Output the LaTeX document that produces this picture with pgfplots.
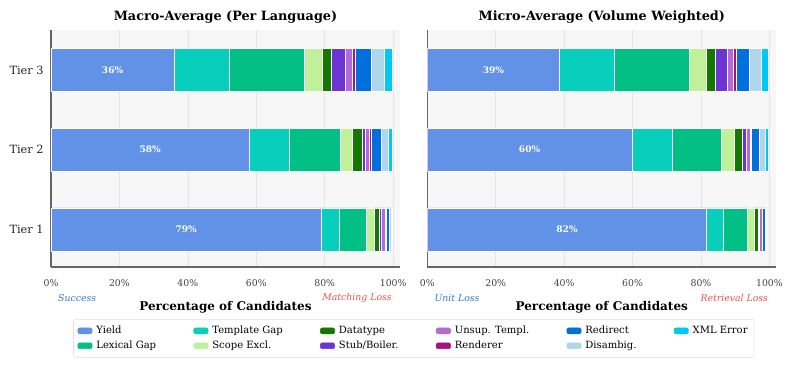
\documentclass[border=0pt]{standalone}
\usepackage{fontspec}
\setmainfont{DejaVu Serif}
\usepackage{pgfplots}
\pgfplotsset{compat=1.18}
\usepackage{pgfplotstable}

\definecolor{cYield}{RGB}{98,145,232}
\definecolor{cTemplate}{RGB}{8,206,188}
\definecolor{cLexical}{RGB}{2,192,133}
\definecolor{cScope}{RGB}{193,240,154}
\definecolor{cDatatype}{RGB}{19,119,0}
\definecolor{cStub}{RGB}{108,52,212}
\definecolor{cUnsup}{RGB}{179,107,214}
\definecolor{cRenderer}{RGB}{168,18,126}
\definecolor{cRedirect}{RGB}{0,112,221}
\definecolor{cDisambig}{RGB}{176,214,234}
\definecolor{cXML}{RGB}{0,200,244}
\definecolor{cSucc}{RGB}{52,120,214}
\definecolor{cLoss}{RGB}{232,84,76}

\newcommand\fs[1]{\fontsize{#1}{#1}\selectfont}

% y: 0 = Tier 1, 1 = Tier 2, 2 = Tier 3
\pgfplotstableread{
y Yield Template Lexical Scope Datatype Stub Unsup Renderer Redirect Disambig XML
0 79.0 5.3 8.0 2.2 1.5 0.6 1.2 0.2 0.8 0.6 0.5
1 58.0 11.8 14.8 3.5 2.8 1.1 1.0 0.6 3.0 2.1 1.1
2 36.1 15.9 22.0 5.2 2.6 4.1 2.1 0.8 4.7 3.9 2.4
}\macrodata

\pgfplotstableread{
y Yield Template Lexical Scope Datatype Stub Unsup Renderer Redirect Disambig XML
0 81.7 4.8 7.1 1.9 1.2 0.3 0.8 0.2 0.8 0.2 0.1
1 59.8 11.7 14.5 3.6 2.5 1.2 1.0 0.5 2.2 1.7 0.9
2 38.7 16.0 21.8 5.1 2.6 3.5 1.8 0.8 3.9 3.5 2.0
}\microdata

\tikzset{
  pct/.style={text=white, font=\bfseries\fs{6.8}},
  succ/.style={text=cSucc, font=\itshape\fs{7}, anchor=west, inner xsep=0pt},
  loss/.style={text=cLoss, font=\itshape\fs{7}, anchor=east, inner xsep=0pt},
}

\pgfplotsset{
  tierax/.style={
    scale only axis, width=261.75pt, height=177.75pt,
    xbar stacked, bar width=32.25pt,
    xmin=0, xmax=102, ymin=-0.47, ymax=2.5,
    xtick={0,20,40,60,80,100},
    xticklabels={0\%,20\%,40\%,60\%,80\%,100\%},
    ytick={0,1,2},
    major tick length=0pt,
    axis x line*=bottom, axis y line*=left,
    axis line style={black!60, line width=0.9pt, -},
    axis background/.style={fill=black!3},
    xmajorgrids, grid style={black!10, line width=0.5pt},
    ymajorgrids=false,
    tick label style={font=\fs{7}, text=black!75},
    xticklabel style={yshift=-6pt},
    yticklabel style={font=\fs{8.5}, text=black!85, xshift=-2pt},
    title style={font=\bfseries\fs{9.6}, yshift=-4.5pt},
    xlabel style={font=\bfseries\fs{9}, at={(axis description cs:0.5,-0.172)}, anchor=center},
    xlabel={Percentage of Candidates},
  },
  seg/.style={fill=#1, draw=white, line width=0.5pt, forget plot},
  legimg/.style={legend image code/.code={\fill[#1] (0pt,-2.2pt) rectangle (10.8pt,2.2pt);}},
}

\newcommand\stackbars[1]{%
  \addplot[seg=cYield] table[x=Yield, y=y] {#1};
  \addplot[seg=cTemplate] table[x=Template, y=y] {#1};
  \addplot[seg=cLexical] table[x=Lexical, y=y] {#1};
  \addplot[seg=cScope] table[x=Scope, y=y] {#1};
  \addplot[seg=cDatatype] table[x=Datatype, y=y] {#1};
  \addplot[seg=cStub] table[x=Stub, y=y] {#1};
  \addplot[seg=cUnsup] table[x=Unsup, y=y] {#1};
  \addplot[seg=cRenderer] table[x=Renderer, y=y] {#1};
  \addplot[seg=cRedirect] table[x=Redirect, y=y] {#1};
  \addplot[seg=cDisambig] table[x=Disambig, y=y] {#1};
  \addplot[seg=cXML] table[x=XML, y=y] {#1};
}

\begin{document}
\begin{tikzpicture}
\path[use as bounding box] (-38.25pt,-75pt) rectangle (556.5pt,200.25pt);

\begin{axis}[tierax, at={(0pt,0pt)}, anchor=south west,
  title={Macro-Average (Per Language)},
  yticklabels={Tier 1,Tier 2,Tier 3},
  legend columns=6,
  legend style={at={(axis description cs:1.0397,-0.301)}, anchor=center,
    draw=black!12, rounded corners=1.5pt, fill=white,
    font=\fs{7.5}, inner xsep=3pt, inner ysep=3pt,
    /tikz/every even column/.append style={column sep=26pt},
    /tikz/every odd column/.append style={column sep=1pt},
    row sep=0pt},
  legend cell align=left]
  \stackbars{\macrodata}
  \addlegendimage{legimg=cYield}\addlegendentry{Yield}
  \addlegendimage{legimg=cTemplate}\addlegendentry{Template Gap}
  \addlegendimage{legimg=cDatatype}\addlegendentry{Datatype}
  \addlegendimage{legimg=cUnsup}\addlegendentry{Unsup. Templ.}
  \addlegendimage{legimg=cRedirect}\addlegendentry{Redirect}
  \addlegendimage{legimg=cXML}\addlegendentry{XML Error}
  \addlegendimage{legimg=cLexical}\addlegendentry{Lexical Gap}
  \addlegendimage{legimg=cScope}\addlegendentry{Scope Excl.}
  \addlegendimage{legimg=cStub}\addlegendentry{Stub/Boiler.}
  \addlegendimage{legimg=cRenderer}\addlegendentry{Renderer}
  \addlegendimage{legimg=cDisambig}\addlegendentry{Disambig.}
  \coordinate (l3) at (axis cs:18,2);
  \coordinate (l2) at (axis cs:29,1);
  \coordinate (l1) at (axis cs:39.5,0);
  \coordinate (ls) at (axis description cs:0.02,-0.131);
  \coordinate (ll) at (axis description cs:0.977,-0.131);
\end{axis}
\node[pct] at (l3) {36\%};
\node[pct] at (l2) {58\%};
\node[pct] at (l1) {79\%};
\node[succ] at (ls) {Success};
\node[loss] at (ll) {Matching Loss};

\begin{axis}[tierax, at={(282.2pt,0pt)}, anchor=south west,
  title={Micro-Average (Volume Weighted)},
  yticklabels={}]
  \stackbars{\microdata}
  \coordinate (r3) at (axis cs:19.35,2);
  \coordinate (r2) at (axis cs:29.9,1);
  \coordinate (r1) at (axis cs:40.85,0);
  \coordinate (rs) at (axis description cs:0.02,-0.131);
  \coordinate (rl) at (axis description cs:0.977,-0.131);
\end{axis}
\node[pct] at (r3) {39\%};
\node[pct] at (r2) {60\%};
\node[pct] at (r1) {82\%};
\node[succ] at (rs) {Unit Loss};
\node[loss] at (rl) {Retrieval Loss};
\end{tikzpicture}
\end{document}
